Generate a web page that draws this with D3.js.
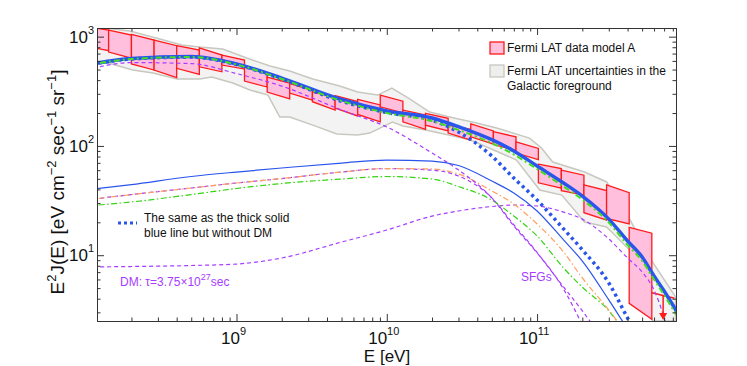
<!DOCTYPE html>
<html>
<head>
<meta charset="utf-8">
<script src="https://cdnjs.cloudflare.com/ajax/libs/d3/7.8.5/d3.min.js"></script>
<style>
  body { margin: 0; background: #fff; }
  svg { display: block; font-family: "Liberation Sans", Arial, sans-serif; }
</style>
</head>
<body>
<svg id="chart" width="747" height="366"></svg>
<script>
// Fermi LAT model A bins (eV) and box corners (E^2 J, eV cm^-2 s^-1 sr^-1)
const binEdges = [1.0e8, 1.41e8, 2.0e8, 2.83e8, 4.0e8, 5.66e8, 8.0e8, 1.13e9, 1.6e9, 2.26e9, 3.2e9, 4.53e9,
  6.4e9, 9.05e9, 1.28e10, 1.81e10, 2.56e10, 3.62e10, 5.12e10, 7.24e10, 1.02e11, 1.45e11, 2.05e11, 2.9e11,
  4.1e11, 5.8e11, 8.2e11];
const boxTopLeft = [1231, 1149, 1050, 931, 826, 791, 679, 527, 427, 374, 313, 289, 267, 292, 213, 199, 155, 159, 135, 109, 68, 60, 44, 44, 18];
const boxTopRight = [1149, 1034, 931, 826, 754, 679, 611, 459, 376, 320, 278, 255, 237, 257, 192, 179, 142, 137, 121, 95, 62, 54, 39, 37.3, 15.9];
const boxBotLeft = [820, 723, 562, 495, 513, 530, 550, 392, 311, 305, 254, 222, 194, 228, 166, 155, 131, 121, 103, 86, 46, 39, 24.5, 21.7, 3.63];
const boxBotRight = [743, 637, 495, 421, 452, 477, 505, 346, 269, 263, 213, 188, 166, 201, 142, 137, 113, 104, 91, 75, 41, 35.5, 21, 19.3, 2.59];
const upperLimit = [4.54, 4.03];

// Galactic foreground uncertainty band
const bandUpperE = [1.18e8, 1.95e8, 3.09e8, 4.33e8, 5.7e8, 8.11e8, 1.17e9, 1.67e9, 2.26e9, 3.22e9, 4.86e9, 6.4e9, 8.7e9,
  1.08e10, 1.42e10, 1.93e10, 2.62e10, 3.96e10, 5.38e10, 8.9e10, 1.07e11, 1.27e11, 2.07e11, 2.9e11, 4.0e11, 5.86e11, 8.34e11];
const bandUpper = [1224, 1125, 950, 838, 803, 770, 637, 538, 484, 410, 353, 311, 292, 339, 269, 204, 184, 162, 146, 118,
  95.7, 71.2, 57.7, 46.8, 23.3, 8.67, 4.15];
const bandLowerE = [1.18e8, 1.44e8, 2.04e8, 2.78e8, 4.01e8, 5.7e8, 6.85e8, 9.45e8, 1.23e9, 1.62e9, 1.94e9, 2.26e9,
  3.22e9, 4.65e9, 6.4e9, 7.7e9, 1.09e10, 1.28e10, 1.81e10, 2.58e10, 3.61e10, 5.14e10, 7.3e10, 1.04e11, 1.46e11,
  2.07e11, 2.9e11, 4.12e11, 5.86e11, 8.34e11];
const bandLower = [586, 567, 495, 464, 410, 410, 427, 376, 325, 292, 184, 184, 155, 128.5, 126, 131, 165, 152, 140, 126,
  113, 91.7, 74.3, 39.5, 35.5, 20.1, 18.1, 11.2, 2.5, 2.5];

// model curves, read on a common energy grid
const gridE = [1e8, 2e8, 5e8, 1e9, 2e9, 5e9, 1e10, 2e10, 3e10, 5e10, 7e10, 1e11, 1.5e11, 2e11, 3e11, 4e11, 5e11, 6e11, 7e11, 8e11, 1e12];
const totalDM = [550, 630, 657, 562, 418, 266, 209, 180, 150, 114, 90, 65.5, 45.8, 34.8, 21.4, 13.5, 9.63, 6.45, 4.7, 3.5, 2.07];
const totalNoDM = [545, 625, 650, 555, 410, 256, 202, 172, 134, 80.8, 50.8, 32.0, 17.4, 11.2, 5.57, 2.66, 1.51, null, null, null, null];
const totalGreen = [544, 624, 651, 556, 410, 258, 200, 169, 140, 106, 83.4, 61.5, 42.5, 32.3, 19.9, 12.4, 8.85, 6.0, 4.32, 3.22, 1.94];
const totalPurple = [495, 579, 567, 459, 353, 213, 149, 86.1, 60.2, 33.4, 18.5, 10.5, 5.12, 3.1, 1.4, null, null, null, null, null, null];
const thinBlue = [39.5, 44.3, 52.5, 57.7, 62.8, 69.7, 74.3, 72.7, 66.2, 47.7, 37.1, 25.4, 13.8, 8.85, 3.9, 2.1, null, null, null, null, null];
const thinOrange = [32.0, 35.9, 41.2, 45.8, 50.3, 57.7, 62.1, 61.5, 55.3, 38.7, 29.4, 19.3, 10.7, 6.19, 3.15, 1.86, null, null, null, null, null];
const thinGreen = [28.2, 30.7, 35.9, 40.8, 45.3, 49.8, 52.5, 49.8, 42.5, 32.0, 22.8, 15.0, 7.64, 5.1, 3.1, 1.8, null, null, null, null, null];
const sfgs = [32.0, 35.9, 41.2, 45.8, 50.3, 57.7, 62.1, 60, 53.0, 33.5, 19.0, 10.6, 4.9, 2.3, null, null, null, null, null, null, null];
const dm = [7.8, 7.88, 8.05, 8.3, 9.43, 13.2, 17.0, 22.8, 25.4, 27.9, 28.8, 28.2, 24.8, 21.4, 14.1, 9.43, 7.02, 4.8, 2.66, 1.2, null];

const xMajor = [1e9, 1e10, 1e11];
const yMajor = [10, 100, 1000];

const margin = { top: 28, right: 71, bottom: 45, left: 97 },
  w = 747,
  h = 366;

const xScale = d3.scaleLog().domain([1.18e8, 8.4e11]).range([margin.left, w - margin.right]);
const yScale = d3.scaleLog().domain([2.5, 1200]).range([h - margin.bottom, margin.top]);

const svg = d3.select('#chart');
svg.append('rect').attr('width', w).attr('height', h).attr('fill', '#fff');

svg.append('clipPath').attr('id', 'plot-clip')
  .append('rect')
  .attr('x', margin.left).attr('y', margin.top)
  .attr('width', w - margin.left - margin.right)
  .attr('height', h - margin.top - margin.bottom);

const plot = svg.append('g').attr('clip-path', 'url(#plot-clip)');

// grey band
const bandPts = bandUpperE.map((e, i) => [xScale(e), yScale(bandUpper[i])])
  .concat(bandLowerE.map((e, i) => [xScale(e), yScale(bandLower[i])]).reverse());
plot.append('path')
  .attr('d', d3.line()(bandPts) + 'Z')
  .attr('fill', '#f3f3f3')
  .attr('stroke', '#c8c8c0')
  .attr('stroke-width', 1.5);

// data boxes
const boxes = boxTopLeft.map((t, i) => ({
  e0: binEdges[i], e1: binEdges[i + 1],
  tl: t, tr: boxTopRight[i], bl: boxBotLeft[i], br: boxBotRight[i]
}));
plot.selectAll('.box').data(boxes).join('path')
  .attr('class', 'box')
  .attr('d', d => d3.line()([
    [xScale(d.e0), yScale(d.tl)], [xScale(d.e1), yScale(d.tr)],
    [xScale(d.e1), yScale(d.br)], [xScale(d.e0), yScale(d.bl)]
  ]) + 'Z')
  .attr('fill', '#ffbfdd')
  .attr('stroke', '#ff1a1a')
  .attr('stroke-width', 1.3);

// upper limit in the last bin
const ulE0 = binEdges[25], ulE1 = binEdges[26], ulMid = Math.sqrt(ulE0 * ulE1);
plot.append('line')
  .attr('x1', xScale(ulE0)).attr('y1', yScale(upperLimit[0]))
  .attr('x2', xScale(ulE1)).attr('y2', yScale(upperLimit[1]))
  .attr('stroke', '#ff1a1a').attr('stroke-width', 1.5);

// model curves
const series = [
  { values: dm, color: '#a63cff', width: 1.2, dash: '4,3' },
  { values: sfgs, color: '#a63cff', width: 1.2, dash: '4,3' },
  { values: thinGreen, color: '#33d411', width: 1.2, dash: '6,2.5,1.5,2.5' },
  { values: thinOrange, color: '#ffa060', width: 1.2, dash: '6,2.5,1.5,2.5' },
  { values: thinBlue, color: '#2a55ec', width: 1.2, dash: null },
  { values: totalPurple, color: '#a63cff', width: 1.2, dash: '4,3' },
  { values: totalDM, color: '#2a55ec', width: 3.5, dash: null },
  { values: totalNoDM, color: '#2a55ec', width: 3.5, dash: '3,3.5' },
  { values: totalGreen, color: '#44dd22', width: 2, dash: '6,3,2,3' }
];

const lineGen = d3.line()
  .defined(d => d[1] != null)
  .x(d => xScale(d[0]))
  .y(d => yScale(d[1]))
  .curve(d3.curveMonotoneX);

plot.selectAll('.model').data(series).join('path')
  .attr('class', 'model')
  .attr('d', s => lineGen(gridE.map((e, i) => [e, s.values[i]])))
  .attr('fill', 'none')
  .attr('stroke', s => s.color)
  .attr('stroke-width', s => s.width)
  .attr('stroke-dasharray', s => s.dash);

// arrow for the upper limit
const ax = xScale(ulMid), ay0 = yScale(Math.sqrt(upperLimit[0] * upperLimit[1])), ay1 = h - margin.bottom - 1;
plot.append('line')
  .attr('x1', ax).attr('x2', ax).attr('y1', ay0).attr('y2', ay1 - 5)
  .attr('stroke', '#ff1a1a').attr('stroke-width', 1.5);
plot.append('path')
  .attr('d', `M${ax - 4},${ay1 - 7}L${ax + 4},${ay1 - 7}L${ax},${ay1}Z`)
  .attr('fill', '#ff1a1a');

// axes: ticks point inwards
const xMinor = [];
[1e8, 1e9, 1e10, 1e11].forEach(p => { for (let k = 2; k <= 9; k++) xMinor.push(k * p); });
const yMinor = [];
[1, 10, 100].forEach(p => { for (let k = 2; k <= 9; k++) yMinor.push(k * p); });
const xMinorIn = xMinor.filter(v => v > 1.18e8 && v < 8.4e11);
const yMinorIn = yMinor.filter(v => v > 2.5 && v < 1200);

const axisStyle = g => {
  g.selectAll('path.domain').attr('stroke', '#333').attr('stroke-width', 1);
  g.selectAll('.tick line').attr('stroke', '#333');
  g.selectAll('.tick text').remove();
};

svg.append('g').attr('transform', `translate(0,${h - margin.bottom})`)
  .call(d3.axisBottom(xScale).tickValues(xMajor).tickSize(-7).tickSizeOuter(0)).call(axisStyle);
svg.append('g').attr('transform', `translate(0,${h - margin.bottom})`)
  .call(d3.axisBottom(xScale).tickValues(xMinorIn).tickSize(-3.5).tickSizeOuter(0)).call(axisStyle);
svg.append('g').attr('transform', `translate(0,${margin.top})`)
  .call(d3.axisTop(xScale).tickValues(xMajor).tickSize(-7).tickSizeOuter(0)).call(axisStyle);
svg.append('g').attr('transform', `translate(0,${margin.top})`)
  .call(d3.axisTop(xScale).tickValues(xMinorIn).tickSize(-3.5).tickSizeOuter(0)).call(axisStyle);
svg.append('g').attr('transform', `translate(${margin.left},0)`)
  .call(d3.axisLeft(yScale).tickValues(yMajor).tickSize(-7).tickSizeOuter(0)).call(axisStyle);
svg.append('g').attr('transform', `translate(${margin.left},0)`)
  .call(d3.axisLeft(yScale).tickValues(yMinorIn).tickSize(-3.5).tickSizeOuter(0)).call(axisStyle);
svg.append('g').attr('transform', `translate(${w - margin.right},0)`)
  .call(d3.axisRight(yScale).tickValues(yMajor).tickSize(-7).tickSizeOuter(0)).call(axisStyle);
svg.append('g').attr('transform', `translate(${w - margin.right},0)`)
  .call(d3.axisRight(yScale).tickValues(yMinorIn).tickSize(-3.5).tickSizeOuter(0)).call(axisStyle);

// tick labels as 10^n
svg.append('g').selectAll('text').data(xMajor).join('text')
  .attr('x', d => xScale(d) - 3)
  .attr('y', 344)
  .attr('text-anchor', 'middle')
  .attr('font-size', 17)
  .attr('fill', '#111')
  .each(function (d) {
    const t = d3.select(this);
    t.append('tspan').text('10');
    t.append('tspan').attr('dy', -9).attr('font-size', 11).text(Math.round(Math.log10(d)));
  });

svg.append('g').selectAll('text').data(yMajor).join('text')
  .attr('x', 94)
  .attr('y', d => yScale(d) + 6)
  .attr('text-anchor', 'end')
  .attr('font-size', 17)
  .attr('fill', '#111')
  .each(function (d) {
    const t = d3.select(this);
    t.append('tspan').text('10');
    t.append('tspan').attr('dy', -9).attr('font-size', 11).text(Math.round(Math.log10(d)));
  });

// axis titles
svg.append('text')
  .attr('x', 387).attr('y', 362)
  .attr('text-anchor', 'middle')
  .attr('font-size', 17)
  .attr('fill', '#111')
  .text('E [eV]');

const yTitle = svg.append('text')
  .attr('transform', 'translate(64,182) rotate(-90)')
  .attr('text-anchor', 'middle')
  .attr('font-size', 19)
  .attr('fill', '#111');
[['E', 0], ['2', -8], ['J(E) [eV cm', 8], ['\u22122', -8], [' sec', 8], ['\u22121', -8], [' sr', 8], ['\u22121', -8], [']', 8]]
  .forEach(([txt, dy]) => {
    const sp = yTitle.append('tspan').attr('dy', dy).text(txt);
    if (dy < 0) sp.attr('font-size', 13);
  });

// legend
const legendItems = [
  { lines: ['Fermi LAT data model A'], fill: '#ffbfdd', stroke: '#ff1a1a', y: 42 },
  { lines: ['Fermi LAT uncertainties in the', 'Galactic foreground'], fill: '#eeeeee', stroke: '#c8c8c0', y: 65 }
];
const legend = svg.append('g');
legend.selectAll('rect').data(legendItems).join('rect')
  .attr('x', 490).attr('y', d => d.y)
  .attr('width', 14).attr('height', 12)
  .attr('fill', d => d.fill).attr('stroke', d => d.stroke).attr('stroke-width', 1.3);
legend.selectAll('text').data(legendItems).join('text')
  .attr('x', 507).attr('y', d => d.y + 10)
  .attr('font-size', 12).attr('fill', '#111')
  .each(function (d) {
    const t = d3.select(this);
    d.lines.forEach((l, i) => t.append('tspan').attr('x', 507).attr('dy', i ? 15 : 0).text(l));
  });

// annotations
svg.append('line')
  .attr('x1', 118).attr('x2', 137).attr('y1', 223).attr('y2', 223)
  .attr('stroke', '#2a55ec').attr('stroke-width', 3).attr('stroke-dasharray', '3,3');
const note = svg.append('text').attr('font-size', 12).attr('fill', '#111');
note.append('tspan').attr('x', 144).attr('y', 222).text('The same as the thick solid');
note.append('tspan').attr('x', 144).attr('y', 237).text('blue line but without DM');

const dmLabel = svg.append('text').attr('x', 120).attr('y', 286).attr('font-size', 12).attr('fill', '#a63cff');
dmLabel.append('tspan').text('DM: \u03c4=3.75\u00d710');
dmLabel.append('tspan').attr('dy', -6).attr('font-size', 9).text('27');
dmLabel.append('tspan').attr('dy', 6).text('sec');

svg.append('text').attr('x', 521).attr('y', 281).attr('font-size', 12).attr('fill', '#a63cff').text('SFGs');
</script>
</body>
</html>
